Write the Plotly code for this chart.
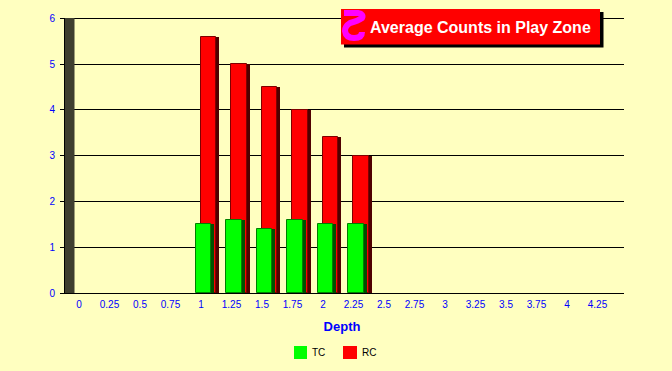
import plotly.graph_objects as go

W, H = 672, 371
L, R, T, B = 60, 624, 16, 293
WALL_TOP = 18

depth = ["0","0.25","0.5","0.75","1","1.25","1.5","1.75","2","2.25","2.5","2.75","3","3.25","3.5","3.75","4","4.25"]
tc = [None,None,None,None,1.5,1.6,1.4,1.6,1.5,1.5]+[None]*8
rc = [None,None,None,None,5.6,5.0,4.5,4.0,3.4,3.0]+[None]*8
series_names = ["TC", "RC"]

BG = "#FFFFC0"
UNIT = 30.5
def px(v): return v/UNIT
def xp(v): return (v-L)/(R-L)
def yp(v): return (B-v)/(B-T)

fig = go.Figure()
def bars(vals, name, col, line, shade, off):
    fig.add_bar(x=depth, y=vals, width=px(18), offset=px(off+0.5), marker=dict(color=shade, line_width=0),
                showlegend=False, hoverinfo="skip")
    fig.add_bar(x=depth, y=vals, width=px(15.5), offset=px(off), marker=dict(color=col, line=dict(color=line, width=1)),
                name=name, showlegend=False)
bars(rc, "RC", "#FF0000", "#800000", "#500000", -0.5)
bars(tc, "TC", "#00FF00", "#008000", "#005000", -5.5)

def rect(x0, x1, y0, y1, col):
    return dict(type="rect", xref="paper", yref="paper", x0=xp(x0), x1=xp(x1), y0=yp(y1), y1=yp(y0),
                fillcolor=col, line_width=0, layer="above")

def P(x, y): return f"{xp(x)} {yp(y)}"
icon = (f"M {P(344,13)} L {P(358,13)} Q {P(364,14)} {P(362,18)} Q {P(358,21)} {P(350,23)} "
        f"Q {P(345,26)} {P(345,31)} Q {P(346,38)} {P(354,38)} Q {P(362,38)} {P(362,32)}")

shapes = [
    rect(64, 74.5, WALL_TOP, B, "#3F3F2F"),
    dict(type="line", xref="paper", yref="paper", x0=xp(64.5), x1=xp(64.5), y0=0, y1=yp(WALL_TOP),
         line=dict(color="#000000", width=1), layer="above"),
    rect(344, 603.5, 12, 47.5, "#000000"),
    rect(341, 600, 9, 44.5, "#FF0000"),
    dict(type="path", xref="paper", yref="paper", path=icon,
         line=dict(color="#FF00FF", width=6), layer="above"),
    rect(294, 307, 346, 359, "#00FF00"),
    rect(343, 357, 346, 359, "#FF0000"),
]
annotations = [
    dict(text="<b>Average Counts in Play Zone</b>", xref="paper", yref="paper",
         x=xp(368), y=yp(27), xanchor="left", yanchor="middle", showarrow=False,
         font=dict(size=16, color="#FFFFFF")),
    dict(text=series_names[0], xref="paper", yref="paper", x=xp(310), y=yp(352.5), xanchor="left",
         yanchor="middle", showarrow=False, font=dict(size=10, color="#000000")),
    dict(text=series_names[1], xref="paper", yref="paper", x=xp(360), y=yp(352.5), xanchor="left",
         yanchor="middle", showarrow=False, font=dict(size=10, color="#000000")),
]
fig.update_layout(
    width=W, height=H, autosize=False, showlegend=False,
    paper_bgcolor=BG, plot_bgcolor=BG, barmode="overlay", bargap=0,
    margin=dict(l=L, r=W-R, t=T, b=H-B, pad=0),
    font=dict(family="Liberation Sans, Arial, sans-serif", size=10, color="#0000FF"),
    xaxis=dict(type="category", categoryorder="array", categoryarray=depth, tickvals=depth, ticktext=depth,
               range=[(L-79)/UNIT, (R-79)/UNIT], showgrid=False, zeroline=False, showline=False, ticks="",
               ticklabelstandoff=4,
               title=dict(text="<b>Depth</b>", font=dict(size=13, color="#0000FF"), standoff=12)),
    yaxis=dict(range=[0, 6.05], tickvals=[0,1,2,3,4,5,6], showgrid=True, gridcolor="#000000", gridwidth=1, zeroline=True,
               zerolinecolor="#000000", zerolinewidth=1, showline=False, ticks="", ticklabelstandoff=4),
    shapes=shapes,
    annotations=annotations,
)
fig.write_html("out.html", post_script="document.body.style.margin='0';", config={"displayModeBar": False})
